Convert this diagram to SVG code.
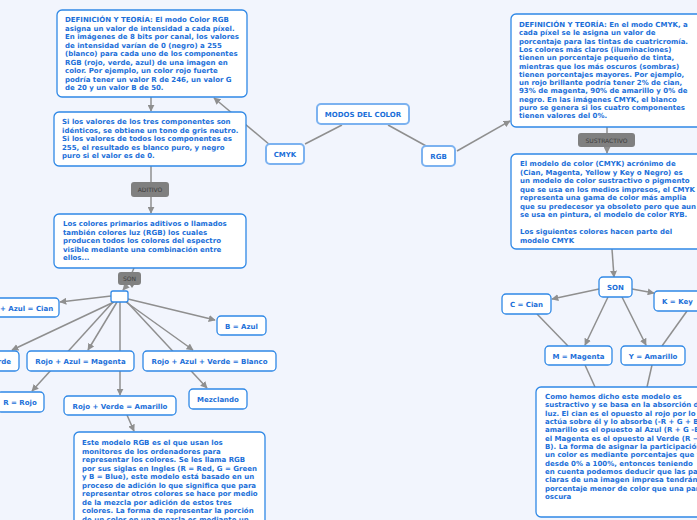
<svg xmlns="http://www.w3.org/2000/svg" width="697" height="520" viewBox="0 0 697 520">
<defs>
<style>
.bg{fill:#f2f5fd}
.bx{fill:#fff;stroke:#2f88e6;stroke-width:1.3}
.mn{fill:#fff;stroke:#7cb2f0;stroke-width:2}
.t{font-family:"DejaVu Sans",Verdana,sans-serif;font-size:7px;font-weight:bold;fill:#1b6fd9}
.c{text-anchor:middle}
.lb{fill:#808080}
.lt{font-family:"DejaVu Sans",Verdana,sans-serif;font-size:6px;fill:#3c3c3c;text-anchor:middle}
.ln{stroke:#8f8f8f;stroke-width:1.5;fill:none}
.ar{marker-end:url(#ah)}
</style>
<marker id="ah" viewBox="0 0 10 10" refX="9" refY="5" markerWidth="7" markerHeight="7" markerUnits="userSpaceOnUse" orient="auto">
<path d="M0,0 L10,5 L0,10 z" fill="#8f8f8f"/>
</marker>
</defs>
<rect class="bg" x="0" y="0" width="697" height="520"/>
<g id="connectors">
<line class="ln" x1="342" y1="125" x2="305" y2="144"/>
<line class="ln" x1="388" y1="125" x2="428" y2="147"/>
<line class="ln ar" x1="457" y1="151" x2="510" y2="121"/>
<line class="ln ar" x1="270" y1="145" x2="214" y2="98"/>
<line class="ln ar" x1="151" y1="97" x2="151" y2="111"/>
<line class="ln" x1="151" y1="166" x2="151" y2="182"/>
<line class="ln ar" x1="151" y1="197" x2="151" y2="213"/>
<line class="ln" x1="134" y1="268" x2="131" y2="275"/>
<line class="ln ar" x1="128" y1="284" x2="123" y2="290"/>
<line class="ln ar" x1="111" y1="296" x2="60" y2="302"/>
<line class="ln ar" x1="128" y1="299" x2="215" y2="320"/>
<line class="ln ar" x1="114" y1="302" x2="12" y2="350"/>
<line class="ln ar" x1="117" y1="302" x2="88" y2="350"/>
<line class="ln ar" x1="113" y1="302" x2="32" y2="391"/>
<line class="ln ar" x1="120" y1="302" x2="120" y2="395"/>
<line class="ln ar" x1="126" y1="302" x2="193" y2="350"/>
<line class="ln ar" x1="127" y1="302" x2="207" y2="388"/>
<line class="ln ar" x1="127" y1="415" x2="134" y2="431"/>
<line class="ln" x1="607" y1="127" x2="607" y2="133"/>
<line class="ln ar" x1="607" y1="147" x2="607" y2="153"/>
<line class="ln ar" x1="612" y1="249" x2="614" y2="277"/>
<line class="ln ar" x1="599" y1="289" x2="552" y2="299"/>
<line class="ln ar" x1="632" y1="289" x2="654" y2="293"/>
<line class="ln ar" x1="608" y1="297" x2="585" y2="345"/>
<line class="ln ar" x1="622" y1="297" x2="646" y2="345"/>
<line class="ln" x1="537" y1="314" x2="568" y2="346"/>
<line class="ln" x1="687" y1="311" x2="662" y2="346"/>
<line class="ln" x1="585" y1="365" x2="595" y2="387"/>
<line class="ln" x1="652" y1="365" x2="647" y2="387"/>
</g>
<g id="modos"><rect class="mn" x="317" y="104" width="92" height="20" rx="4"/><text class="t c" x="363" y="117">MODOS DEL COLOR</text></g>
<g id="cmyk"><rect class="mn" x="266" y="144" width="38" height="20" rx="4"/><text class="t c" x="285" y="157">CMYK</text></g>
<g id="rgb"><rect class="mn" x="422" y="146" width="33" height="20" rx="4"/><text class="t c" x="438.5" y="159">RGB</text></g>
<g id="def-rgb"><rect class="bx" x="57" y="10" width="190" height="87" rx="5"/>
<text class="t" x="65" y="22"><tspan x="65">DEFINICIÓN Y TEORÍA: El modo Color RGB</tspan><tspan x="65" dy="8.5">asigna un valor de intensidad a cada píxel.</tspan><tspan x="65" dy="8.5">En imágenes de 8 bits por canal, los valores</tspan><tspan x="65" dy="8.5">de intensidad varían de 0 (negro) a 255</tspan><tspan x="65" dy="8.5">(blanco) para cada uno de los componentes</tspan><tspan x="65" dy="8.5">RGB (rojo, verde, azul) de una imagen en</tspan><tspan x="65" dy="8.5">color. Por ejemplo, un color rojo fuerte</tspan><tspan x="65" dy="8.5">podría tener un valor R de 246, un valor G</tspan><tspan x="65" dy="8.5">de 20 y un valor B de 50.</tspan></text></g>
<g id="si-valores"><rect class="bx" x="54" y="112" width="192" height="54" rx="5"/>
<text class="t" x="62" y="124"><tspan x="62">Si los valores de los tres componentes son</tspan><tspan x="62" dy="8.6">idénticos, se obtiene un tono de gris neutro.</tspan><tspan x="62" dy="8.6">Si los valores de todos los componentes es</tspan><tspan x="62" dy="8.6">255, el resultado es blanco puro, y negro</tspan><tspan x="62" dy="8.6">puro si el valor es de 0.</tspan></text></g>
<g id="aditivo"><rect class="lb" x="131" y="182" width="38" height="15" rx="3"/><text class="lt" x="150" y="192">ADITIVO</text></g>
<g id="primarios"><rect class="bx" x="54" y="214" width="192" height="54" rx="5"/>
<text class="t" x="63" y="226"><tspan x="63">Los colores primarios aditivos o llamados</tspan><tspan x="63" dy="8.5">también colores luz (RGB) los cuales</tspan><tspan x="63" dy="8.5">producen todos los colores del espectro</tspan><tspan x="63" dy="8.5">visible mediante una combinación entre</tspan><tspan x="63" dy="8.5">ellos...</tspan></text></g>
<g id="son-left"><path class="lb" d="M121,272 h17 a3,3 0 0 1 3,3 v7 a3,3 0 0 1 -3,3 h-4 l-2,3 l-2,-3 h-9 a3,3 0 0 1 -3,-3 v-7 a3,3 0 0 1 3,-3 z"/><text class="lt" x="129.5" y="281">SON</text></g>
<g id="hub"><rect class="bx" x="111" y="291" width="17" height="11" rx="2"/></g>
<g id="cian-l"><rect class="bx" x="-10" y="298" width="69" height="19" rx="4"/><text class="t" x="0" y="310.5">+ Azul = Cian</text></g>
<g id="b-azul"><rect class="bx" x="217" y="316" width="49" height="19" rx="4"/><text class="t c" x="241.5" y="328.5">B = Azul</text></g>
<g id="verde"><rect class="bx" x="-30" y="351" width="49" height="20" rx="4"/><text class="t" x="11" y="364" text-anchor="end">rde</text></g>
<g id="magenta-l"><rect class="bx" x="27" y="351" width="107" height="20" rx="4"/><text class="t c" x="80.5" y="364">Rojo + Azul = Magenta</text></g>
<g id="blanco"><rect class="bx" x="143" y="351" width="133" height="20" rx="4"/><text class="t c" x="209.5" y="364">Rojo + Azul + Verde = Blanco</text></g>
<g id="rojo"><rect class="bx" x="-3" y="392" width="47" height="20" rx="4"/><text class="t c" x="20" y="405">R = Rojo</text></g>
<g id="amarillo-l"><rect class="bx" x="64" y="396" width="112" height="19" rx="4"/><text class="t c" x="120" y="408.5">Rojo + Verde = Amarillo</text></g>
<g id="mezclando"><rect class="bx" x="189" y="389" width="58" height="20" rx="4"/><text class="t c" x="218" y="402">Mezclando</text></g>
<g id="este-modelo"><rect class="bx" x="74" y="432" width="191" height="100" rx="5"/>
<text class="t" x="82" y="445"><tspan x="82">Este modelo RGB es el que usan los</tspan><tspan x="82" dy="8.5">monitores de los ordenadores para</tspan><tspan x="82" dy="8.5">representar los colores. Se les llama RGB</tspan><tspan x="82" dy="8.5">por sus siglas en Ingles (R = Red, G = Green</tspan><tspan x="82" dy="8.5">y B = Blue), este modelo está basado en un</tspan><tspan x="82" dy="8.5">proceso de adición lo que significa que para</tspan><tspan x="82" dy="8.5">representar otros colores se hace por medio</tspan><tspan x="82" dy="8.5">de la mezcla por adición de estos tres</tspan><tspan x="82" dy="8.5">colores. La forma de representar la porción</tspan><tspan x="82" dy="8.5">de un color en una mezcla es mediante un</tspan></text></g>
<g id="def-cmyk"><rect class="bx" x="511" y="14" width="195" height="113" rx="5"/>
<text class="t" x="519" y="27"><tspan x="519">DEFINICIÓN Y TEORÍA: En el modo CMYK, a</tspan><tspan x="519" dy="8.3">cada píxel se le asigna un valor de</tspan><tspan x="519" dy="8.3">porcentaje para las tintas de cuatricromía.</tspan><tspan x="519" dy="8.3">Los colores más claros (iluminaciones)</tspan><tspan x="519" dy="8.3">tienen un porcentaje pequeño de tinta,</tspan><tspan x="519" dy="8.3">mientras que los más oscuros (sombras)</tspan><tspan x="519" dy="8.3">tienen porcentajes mayores. Por ejemplo,</tspan><tspan x="519" dy="8.3">un rojo brillante podría tener 2% de cian,</tspan><tspan x="519" dy="8.3">93% de magenta, 90% de amarillo y 0% de</tspan><tspan x="519" dy="8.3">negro. En las imágenes CMYK, el blanco</tspan><tspan x="519" dy="8.3">puro se genera si los cuatro componentes</tspan><tspan x="519" dy="8.3">tienen valores del 0%.</tspan></text></g>
<g id="sustractivo"><rect class="lb" x="578" y="133" width="57" height="14" rx="3"/><text class="lt" x="606.5" y="142.5">SUSTRACTIVO</text></g>
<g id="modelo-cmyk"><rect class="bx" x="511" y="154" width="195" height="95" rx="5"/>
<text class="t" x="520" y="166"><tspan x="520">El modelo de color (CMYK)  acrónimo de</tspan><tspan x="520" dy="8.5">(Cian, Magenta, Yellow y Key o Negro) es</tspan><tspan x="520" dy="8.5">un modelo de color sustractivo o pigmento</tspan><tspan x="520" dy="8.5">que se usa en los medios impresos, el CMYK</tspan><tspan x="520" dy="8.5">representa una gama de color más amplia</tspan><tspan x="520" dy="8.5">que su predecesor ya obsoleto pero que aun</tspan><tspan x="520" dy="8.5">se usa en pintura, el modelo de color RYB.</tspan><tspan x="520" dy="17">Los siguientes colores hacen parte del</tspan><tspan x="520" dy="8.5">modelo CMYK</tspan></text></g>
<g id="son-right"><rect class="bx" x="599" y="277" width="33" height="20" rx="4"/><text class="t c" x="615.5" y="290">SON</text></g>
<g id="c-cian"><rect class="bx" x="502" y="294" width="49" height="20" rx="4"/><text class="t c" x="526.5" y="307">C = Cian</text></g>
<g id="k-key"><rect class="bx" x="654" y="291" width="60" height="20" rx="4"/><text class="t" x="662" y="304">K = Key</text></g>
<g id="m-magenta"><rect class="bx" x="545" y="346" width="67" height="19" rx="4"/><text class="t c" x="578.5" y="358.5">M = Magenta</text></g>
<g id="y-amarillo"><rect class="bx" x="621" y="346" width="64" height="19" rx="4"/><text class="t c" x="653" y="358.5">Y = Amarillo</text></g>
<g id="absorcion"><rect class="bx" x="536" y="387" width="170" height="130" rx="5"/>
<text class="t" x="545" y="399"><tspan x="545">Como hemos dicho este modelo es</tspan><tspan x="545" dy="8.33">sustractivo y se basa en la absorción d</tspan><tspan x="545" dy="8.33">luz. El cian es el opuesto al rojo por lo</tspan><tspan x="545" dy="8.33">actúa sobre él y lo absorbe (-R + G + B</tspan><tspan x="545" dy="8.33">amarillo es el opuesto al Azul (R + G -B</tspan><tspan x="545" dy="8.33">el Magenta es el opuesto al Verde (R −G</tspan><tspan x="545" dy="8.33">B). La forma de asignar la participación</tspan><tspan x="545" dy="8.33">un color es mediante porcentajes que v</tspan><tspan x="545" dy="8.33">desde 0% a 100%, entonces teniendo</tspan><tspan x="545" dy="8.33">en cuenta podemos deducir que las par</tspan><tspan x="545" dy="8.33">claras de una imagen impresa tendrán</tspan><tspan x="545" dy="8.33">porcentaje menor de color que una par</tspan><tspan x="545" dy="8.33">oscura</tspan></text></g>
</svg>
